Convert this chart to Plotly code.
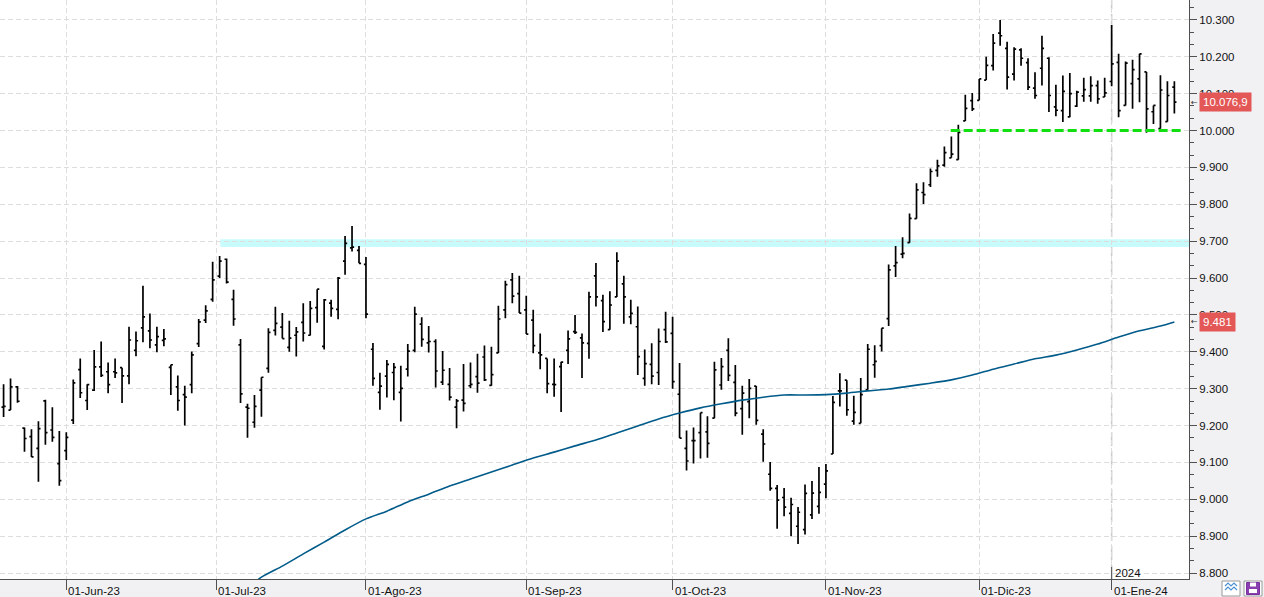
import plotly.graph_objects as go
import pandas as pd

# ---------------- data ----------------
trade_dates = pd.bdate_range("2023-05-19", "2024-01-15", freq="C",
                             holidays=["2023-12-25", "2023-12-26", "2024-01-01"])

opens = [9250, 9242, 9305, 9193, 9170, 9138, 9267, 9188, 9097, 9132,
         9215, 9352, 9268, 9296, 9359, 9346, 9346, 9357, 9335, 9404,
         9465, 9457, 9419, 9431, 9358, 9305, 9284, 9311, 9422, 9486,
         9542, 9605, 9651, 9542, 9419, 9250, 9209, 9296, 9355, 9458,
         9467, 9412, 9445, 9480, 9445, 9520, 9415, 9532, 9515, 9646,
         9682, 9675, 9637, 9407, 9290, 9334, 9344, 9290, 9353, 9404,
         9475, 9424, 9428, 9318, 9312, 9250, 9269, 9308, 9333, 9386,
         9309, 9397, 9514, 9595, 9558, 9514, 9486, 9397, 9382, 9312,
         9360, 9404, 9455, 9438, 9423, 9606, 9539, 9460, 9549, 9584,
         9495, 9468, 9328, 9366, 9344, 9460, 9450, 9285, 9138, 9159,
         9181, 9183, 9220, 9310, 9404, 9317, 9246, 9265, 9307, 9177,
         9068, 9030, 9005, 8962, 8927, 8918, 8958, 8981, 9041, 9123,
         9294, 9323, 9212, 9206, 9297, 9365, 9417, 9490, 9633, 9665,
         9696, 9761, 9832, 9853, 9892, 9906, 9926, 9921, 10026, 10081,
         10082, 10137, 10176, 10264, 10223, 10153, 10219, 10184, 10115, 10169,
         10196, 10064, 10054, 10037, 10066, 10094, 10094, 10122, 10091, 10133,
         10185, 10068, 10127, 10140, 10159, 10051, 10005, 10024, 10118]
highs = [9312, 9328, 9307, 9195, 9190, 9212, 9270, 9250, 9185, 9182,
         9325, 9382, 9312, 9405, 9428, 9371, 9382, 9357, 9468, 9455,
         9579, 9504, 9468, 9462, 9365, 9336, 9308, 9401, 9489, 9526,
         9644, 9660, 9653, 9568, 9435, 9259, 9283, 9331, 9464, 9522,
         9505, 9484, 9467, 9532, 9538, 9570, 9543, 9541, 9603, 9714,
         9741, 9687, 9657, 9424, 9343, 9378, 9370, 9362, 9421, 9522,
         9494, 9470, 9434, 9402, 9356, 9272, 9367, 9371, 9395, 9417,
         9414, 9525, 9593, 9614, 9606, 9552, 9514, 9450, 9382, 9382,
         9373, 9458, 9500, 9450, 9563, 9641, 9555, 9564, 9670, 9606,
         9541, 9523, 9406, 9423, 9463, 9509, 9495, 9370, 9187, 9195,
         9235, 9225, 9373, 9383, 9437, 9364, 9308, 9326, 9307, 9190,
         9101, 9039, 9031, 9004, 8979, 9040, 9050, 9088, 9096, 9280,
         9342, 9323, 9281, 9329, 9421, 9418, 9464, 9637, 9687, 9711,
         9775, 9857, 9860, 9897, 9921, 9957, 9984, 10016, 10097, 10102,
         10140, 10200, 10262, 10300, 10241, 10226, 10223, 10196, 10158, 10257,
         10199, 10124, 10149, 10156, 10108, 10143, 10147, 10136, 10143, 10286,
         10208, 10187, 10192, 10208, 10159, 10068, 10150, 10134, 10134]
lows = [9223, 9242, 9262, 9129, 9115, 9048, 9148, 9156, 9037, 9107,
        9204, 9275, 9242, 9294, 9332, 9288, 9329, 9261, 9312, 9388,
        9426, 9410, 9399, 9415, 9283, 9240, 9200, 9288, 9413, 9478,
        9536, 9600, 9585, 9471, 9261, 9167, 9194, 9224, 9343, 9444,
        9436, 9400, 9387, 9428, 9444, 9479, 9406, 9495, 9488, 9609,
        9672, 9640, 9491, 9308, 9243, 9276, 9269, 9211, 9333, 9399,
        9414, 9398, 9303, 9310, 9268, 9193, 9238, 9301, 9289, 9321,
        9308, 9397, 9491, 9532, 9505, 9448, 9396, 9353, 9288, 9278,
        9237, 9367, 9448, 9329, 9381, 9523, 9454, 9460, 9549, 9476,
        9475, 9337, 9308, 9312, 9310, 9424, 9300, 9166, 9078, 9097,
        9111, 9113, 9220, 9297, 9321, 9225, 9175, 9220, 9202, 9102,
        9023, 8920, 8954, 8900, 8879, 8905, 8947, 8961, 9003, 9123,
        9252, 9227, 9202, 9206, 9297, 9330, 9401, 9470, 9603, 9654,
        9696, 9761, 9801, 9847, 9875, 9902, 9926, 9921, 10026, 10053,
        10082, 10137, 10163, 10230, 10111, 10136, 10176, 10110, 10086, 10122,
        10050, 10039, 10023, 10036, 10064, 10078, 10078, 10073, 10091, 10120,
        10036, 10068, 10059, 10077, 9994, 10018, 10005, 10024, 10046]
closes = [9252, 9305, 9266, 9165, 9115, 9192, 9181, 9168, 9051, 9168,
          9316, 9289, 9311, 9359, 9336, 9311, 9343, 9335, 9432, 9430,
          9495, 9432, 9441, 9435, 9365, 9268, 9277, 9392, 9481, 9511,
          9595, 9646, 9589, 9489, 9286, 9247, 9252, 9331, 9453, 9477,
          9436, 9437, 9454, 9451, 9518, 9570, 9541, 9518, 9600, 9694,
          9684, 9640, 9502, 9328, 9307, 9366, 9358, 9301, 9402, 9502,
          9434, 9428, 9348, 9350, 9277, 9267, 9260, 9312, 9315, 9324,
          9338, 9489, 9582, 9551, 9505, 9448, 9417, 9392, 9314, 9311,
          9372, 9435, 9453, 9424, 9549, 9549, 9482, 9527, 9646, 9549,
          9504, 9387, 9368, 9334, 9428, 9427, 9319, 9166, 9104, 9159,
          9235, 9152, 9351, 9360, 9336, 9234, 9288, 9301, 9214, 9150,
          9030, 8998, 8979, 8986, 8965, 9016, 9017, 9019, 9077, 9263,
          9294, 9243, 9236, 9284, 9407, 9374, 9464, 9622, 9642, 9667,
          9762, 9839, 9826, 9889, 9904, 9940, 9936, 9995, 10060, 10059,
          10140, 10177, 10237, 10257, 10145, 10221, 10196, 10118, 10095, 10223,
          10095, 10055, 10106, 10100, 10104, 10111, 10122, 10086, 10102, 10181,
          10054, 10183, 10165, 10208, 10059, 10068, 10110, 10095, 10076.9]

# moving average, read at sample bars (bar number counted from the first bar = 0)
ma_bar = [35, 37, 40, 43, 46, 49, 52, 55, 58, 61, 64, 67, 70, 73, 76, 79, 82,
          85, 88, 91, 94, 97, 100, 103, 106, 109, 112, 115, 118, 121, 124, 127,
          130, 133, 136, 139, 142, 145, 148, 151, 154, 157, 160, 163, 166, 168]
ma_val = [8760, 8789, 8819, 8852, 8884, 8917, 8947, 8968, 8993, 9014, 9036,
          9055, 9074, 9093, 9112, 9128, 9145, 9161, 9180, 9199, 9218, 9234,
          9248, 9259, 9269, 9277, 9283, 9283, 9284, 9288, 9294, 9299, 9307,
          9315, 9324, 9337, 9353, 9367, 9381, 9391, 9405, 9421, 9440, 9457,
          9470, 9481]

support_level = 10000
support_from_bar, support_to_bar = 135.9, 168.9
resistance_low, resistance_high = 9684, 9705
resistance_from_bar = 31.1

month_abbr = {1: "Ene", 2: "Feb", 3: "Mar", 4: "Abr", 5: "May", 6: "Jun", 7: "Jul",
              8: "Ago", 9: "Sep", 10: "Oct", 11: "Nov", 12: "Dic"}

# ---------------- figure ----------------
n = len(closes)
xs = list(range(n))
FONT = "Liberation Sans"
GRID = "#dddddd"
AX = "#505050"
PH = 579.0   # plot height in px
PW = 1189.0  # plot width in px

fig = go.Figure()
fig.add_trace(go.Ohlc(
    x=xs, open=opens, high=highs, low=lows, close=closes,
    increasing=dict(line=dict(color="black", width=1.7)),
    decreasing=dict(line=dict(color="black", width=1.7)),
    tickwidth=0.3, hoverinfo="skip", showlegend=False))
fig.add_trace(go.Scatter(x=ma_bar, y=ma_val, mode="lines",
                         line=dict(color="#005b8a", width=1.6, shape="spline",
                                   smoothing=0.6),
                         showlegend=False, hoverinfo="skip"))
fig.add_trace(go.Scatter(x=[support_from_bar, support_to_bar],
                         y=[support_level, support_level], mode="lines",
                         line=dict(color="#10e010", width=3, dash="9px,4px"),
                         showlegend=False, hoverinfo="skip"))

x_range = [-0.514, 170.1]
y_range = [8784, 10354]

# resistance band
fig.add_shape(type="rect", xref="x", yref="y", x0=resistance_from_bar, x1=x_range[1],
              y0=resistance_low, y1=resistance_high, fillcolor="#c8fbfc",
              line=dict(width=0), layer="below")

# month ticks
tick_pos, tick_lab = [], []
for i, d in enumerate(trade_dates):
    if i > 0 and d.month != trade_dates[i - 1].month:
        first = pd.Timestamp(d.year, d.month, 1)
        pos = i - (0.5 if first.weekday() == 5 else 0)
        tick_pos.append(pos)
        tick_lab.append(f"01-{month_abbr[d.month]}-{d.strftime('%y')}")
        fig.add_annotation(x=pos, xref="x", y=-12 / PH, yref="paper", text=tick_lab[-1],
                           showarrow=False, xanchor="left", yanchor="middle", xshift=0,
                           font=dict(family=FONT, size=11.5, color="#111111"))

# year separator
year_idx = [i for i, d in enumerate(trade_dates) if d.year == 2024][0]
fig.add_shape(type="line", xref="x", yref="paper", x0=year_idx, x1=year_idx, y0=0, y1=1,
              line=dict(color="#cbcbcb", width=1.5, dash="14px,5px"), layer="below")
fig.add_shape(type="line", xref="x", yref="paper", x0=year_idx, x1=year_idx, y0=0,
              y1=12 / PH, line=dict(color=AX, width=1))
fig.add_annotation(x=year_idx, xref="x", y=6 / PH, yref="paper", text="2024",
                   showarrow=False, xanchor="left", yanchor="middle", xshift=1,
                   font=dict(family=FONT, size=11.5, color="#111111"))

# price badges
for val, txt in [(closes[-1], "10.076,9"), (ma_val[-1], "9.481")]:
    fig.add_annotation(x=1199 / PW, xref="paper", y=val, yref="y", text=txt,
                       showarrow=False, xanchor="left", yanchor="middle",
                       bgcolor="#e35757", borderpad=3,
                       font=dict(family=FONT, size=11.5, color="white"))
    fig.add_annotation(x=1194 / PW, xref="paper", y=val, yref="y", text="←",
                       showarrow=False, xanchor="center", yanchor="middle",
                       font=dict(family="DejaVu Sans", size=8, color="#333333"))

# bottom-right icons
def px(xp, yp):
    return f"{xp / PW:.5f},{-yp / PH:.5f}"

fig.add_shape(type="rect", xref="paper", yref="paper", x0=1222 / PW, x1=1240 / PW,
              y0=-17 / PH, y1=-2 / PH, fillcolor="white",
              line=dict(color="#9a9a9a", width=1))
for off in (0, 4):
    pts = [(1225, 9 + off - 2), (1228, 6 + off - 2), (1231, 9 + off - 2),
           (1234, 6 + off - 2), (1237, 9 + off - 2)]
    path = "M " + " L ".join(px(a, b) for a, b in pts)
    fig.add_shape(type="path", xref="paper", yref="paper", path=path,
                  line=dict(color="#4a90d0", width=1.2))
fig.add_shape(type="rect", xref="paper", yref="paper", x0=1244 / PW, x1=1262 / PW,
              y0=-17 / PH, y1=-2 / PH, fillcolor="white",
              line=dict(color="#9a9a9a", width=1))
fig.add_shape(type="rect", xref="paper", yref="paper", x0=1246.5 / PW, x1=1259.5 / PW,
              y0=-15.5 / PH, y1=-3.5 / PH, fillcolor="#8a3fb0",
              line=dict(color="#7a2fa0", width=1))
fig.add_shape(type="rect", xref="paper", yref="paper", x0=1249 / PW, x1=1257 / PW,
              y0=-14 / PH, y1=-10 / PH, fillcolor="white", line=dict(width=0))
fig.add_shape(type="rect", xref="paper", yref="paper", x0=1250 / PW, x1=1256 / PW,
              y0=-7.5 / PH, y1=-3.5 / PH, fillcolor="white", line=dict(width=0))

fig.update_layout(
    width=1264, height=597,
    margin=dict(l=0, r=75, t=0, b=18, autoexpand=False),
    paper_bgcolor="#f1f1f4", plot_bgcolor="white",
    separators=",.",
    showlegend=False,
    font=dict(family=FONT, size=11.5, color="#111111"),
    xaxis=dict(range=x_range, tickvals=tick_pos, showticklabels=False,
               ticks="outside", ticklen=10, tickcolor=AX,
               showgrid=True, gridcolor=GRID, griddash="5px,3px", gridwidth=1,
               showline=True, linecolor=AX, linewidth=1, zeroline=False,
               rangeslider=dict(visible=False), fixedrange=True),
    yaxis=dict(range=y_range, side="right", dtick=100, tick0=0, tickformat=",.0f",
               ticks="outside", ticklen=7, tickcolor=AX,
               minor=dict(dtick=100 / 3, ticks="outside", ticklen=4, tickcolor=AX,
                          showgrid=False),
               showgrid=True, gridcolor=GRID, griddash="5px,3px", gridwidth=1,
               showline=True, linecolor=AX, linewidth=1, zeroline=False,
               tickfont=dict(family=FONT, size=11.5, color="#111111"),
               fixedrange=True),
)

fig.write_html("out.html")
